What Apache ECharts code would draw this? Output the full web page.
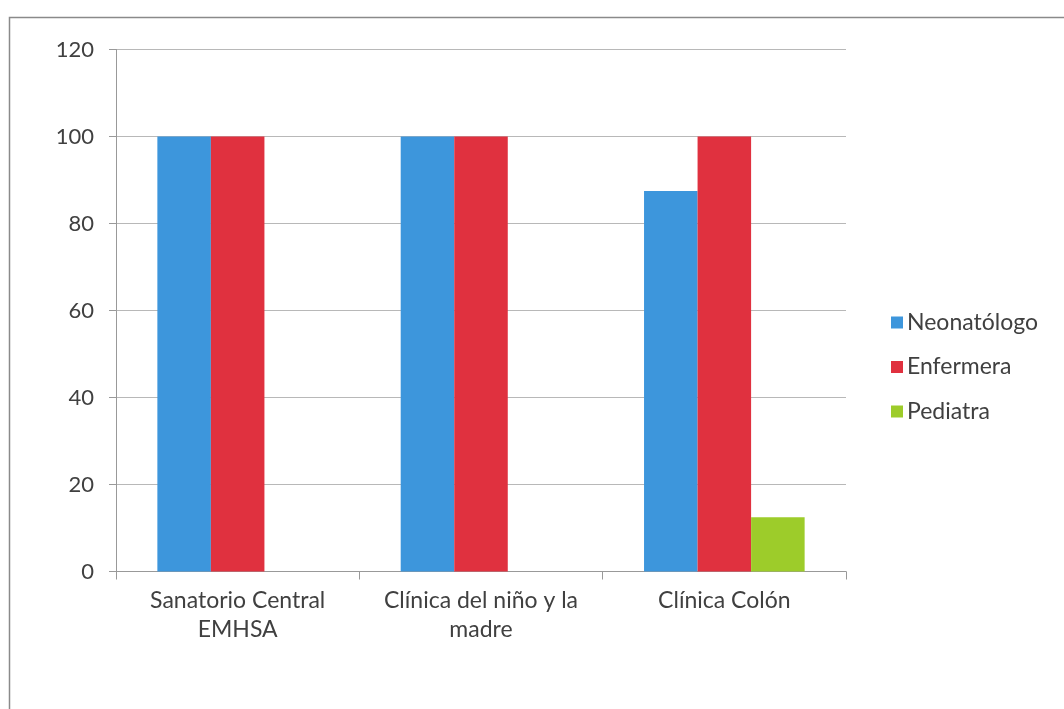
<!DOCTYPE html>
<html><head><meta charset="utf-8">
<script src="https://cdn.jsdelivr.net/npm/echarts@6/dist/echarts.min.js"></script>
<style>html,body{margin:0;padding:0;background:#fff}#c{width:1064px;height:709px}</style>
</head><body><div id="c"></div>
<script>
const categories = ['Sanatorio Central\nEMHSA', 'Clínica del niño y la\nmadre', 'Clínica Colón'];
const neonatologo = [100, 100, 87.5];
const enfermera = [100, 100, 100];
const pediatra = [0, 0, 12.5];
const seriesNames = ['Neonatólogo', 'Enfermera', 'Pediatra'];
const yTicks = [0, 20, 40, 60, 80, 100, 120];

const font = 'Lato, "Open Sans", sans-serif';
const chart = echarts.init(document.getElementById('c'), null, {renderer: 'canvas'});
chart.setOption({
  animation: false,
  color: ['#3d96dc', '#e0313f', '#9dcc2a'],
  graphic: [{
    type: 'rect', left: 7, top: 15, shape: {width: 1070, height: 710},
    style: {fill: 'none', stroke: '#8a8a8a', lineWidth: 1.5}, silent: true
  }],
  grid: {left: 116, top: 49.5, right: 218, bottom: 137.5, containLabel: false},
  legend: {
    orient: 'vertical', left: 886, top: 306, itemWidth: 12, itemHeight: 12, itemGap: 21.5,
    icon: 'rect', data: seriesNames,
    textStyle: {fontFamily: font, fontSize: 23, color: '#404040', padding: [0, 0, 0, -1]}
  },
  xAxis: {
    type: 'category', data: categories,
    axisLine: {lineStyle: {color: '#999999', width: 1}},
    axisTick: {show: true, length: 8, alignWithLabel: false, lineStyle: {color: '#999999'}},
    axisLabel: {fontFamily: font, fontSize: 23, color: '#404040', margin: 15, lineHeight: 29, interval: 0}
  },
  yAxis: {
    type: 'value', min: yTicks[0], max: yTicks[yTicks.length - 1], interval: 20,
    axisLine: {show: true, lineStyle: {color: '#999999', width: 1}},
    axisTick: {show: true, length: 7, lineStyle: {color: '#999999'}},
    axisLabel: {fontFamily: font, fontSize: 22, color: '#404040', margin: 22},
    splitLine: {lineStyle: {color: '#b8b8b8', width: 1}}
  },
  series: [
    {name: seriesNames[0], type: 'bar', data: neonatologo, barGap: '0%', barCategoryGap: '34%'},
    {name: seriesNames[1], type: 'bar', data: enfermera, barGap: '0%', barCategoryGap: '34%'},
    {name: seriesNames[2], type: 'bar', data: pediatra, barGap: '0%', barCategoryGap: '34%'}
  ]
});
</script></body></html>
